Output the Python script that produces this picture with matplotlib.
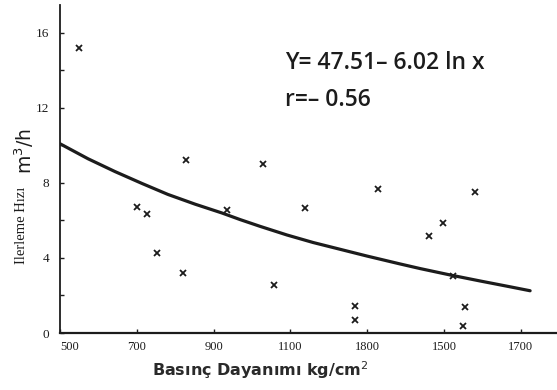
import matplotlib
matplotlib.use("Agg")
import matplotlib.pyplot as plt

# Data
strength = [550, 700, 727, 753, 820, 828, 935, 1029, 1057, 1138, 1268, 1268,
            1328, 1461, 1497, 1523, 1555, 1549, 1581]
advance = [15.2, 6.71, 6.34, 4.26, 3.19, 9.21, 6.55, 9.0, 2.56, 6.66, 1.44, 0.69,
           7.67, 5.17, 5.86, 3.04, 1.38, 0.37, 7.51]

# Regression curve (Y = 47.51 - 6.02 ln x)
curve_x = [500, 573, 643, 714, 781, 852, 922, 969, 1021, 1091, 1159, 1229,
           1299, 1385, 1438, 1516, 1594, 1672, 1724]
curve_y = [10.08, 9.28, 8.60, 7.96, 7.38, 6.86, 6.39, 6.04, 5.68, 5.22, 4.82, 4.46,
           4.10, 3.68, 3.43, 3.09, 2.77, 2.46, 2.25]

xtick_pos = [500, 700, 900, 1100, 1300, 1500, 1700]
xtick_labels = ["500", "700", "900", "1100", "1800", "1500", "1700"]
ytick_major = [0, 4, 8, 12, 16]
ytick_minor = [2, 6, 10, 14]

ink = "#1c1c1c"

fig = plt.figure(figsize=(5.57, 3.90), dpi=100)
ax = fig.add_axes([60 / 557, 57 / 390, 1 - 60 / 557, (333 - 5) / 390])
ax.set_xlim(500, 1794)
ax.set_ylim(0, 17.47)

ax.plot(curve_x, curve_y, color=ink, lw=2.3, solid_capstyle="round",
        solid_joinstyle="round")
ax.plot(strength, advance, linestyle="none", marker="x", ms=4.5, mew=1.3, color=ink)

for s in ("top", "right"):
    ax.spines[s].set_visible(False)
ax.spines["left"].set_linewidth(1.3)
ax.spines["bottom"].set_linewidth(1.6)
ax.spines["left"].set_color(ink)
ax.spines["bottom"].set_color(ink)

ax.set_xticks(xtick_pos)
ax.set_xticklabels(xtick_labels, family="Liberation Serif", fontsize=9, color=ink)
ax.get_xticklabels()[0].set_horizontalalignment("left")
ax.set_yticks(ytick_major)
ax.set_yticks(ytick_minor, minor=True)
ax.set_yticklabels([str(v) for v in ytick_major], family="Liberation Serif",
                   fontsize=9.5, color=ink)
ax.tick_params(axis="both", which="both", direction="in", color=ink)
ax.tick_params(axis="x", length=3, width=1, pad=6)
ax.tick_params(axis="y", which="major", length=3, width=1, pad=8)
ax.tick_params(axis="y", which="minor", length=3, width=1)

fig.text(152 / 557, 1 - 370 / 390, "Basınç Dayanımı kg/cm$^2$", ha="left", va="center",
         fontsize=11.5, fontweight="bold", color="#2a2a2a", family="DejaVu Sans")

fig.text(22 / 557, 1 - 264 / 390, "Ilerleme Hızı", rotation=90,
         ha="center", va="bottom", fontsize=10.5, family="Liberation Serif", color=ink)
fig.text(24 / 557, 1 - 174 / 390, "m$^3$/h", rotation=90, ha="center", va="bottom",
         fontsize=13.5, family="DejaVu Sans", color=ink)

fig.text(285 / 557, 1 - 63 / 390, "Y= 47.51– 6.02 ln x",
         ha="left", va="center", fontsize=16.5, family="Open Sans", fontweight=600,
         color=ink)
fig.text(285 / 557, 1 - 100 / 390, "r=– 0.56",
         ha="left", va="center", fontsize=16.5, family="Open Sans", fontweight=600,
         color=ink)

fig.savefig("out.png", dpi=100, facecolor="white")
